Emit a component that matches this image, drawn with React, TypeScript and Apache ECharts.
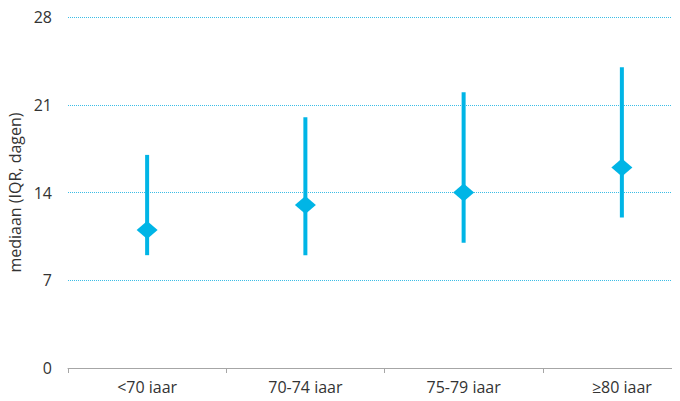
import React, { useEffect, useRef } from "react";
import * as echarts from "echarts";

const categories = ["<70 jaar", "70-74 jaar", "75-79 jaar", "≥80 jaar"];
const medians = [11, 13, 14, 16];
const q1 = [9, 9, 10, 12];
const q3 = [17, 20, 22, 24];
const yTicks = { min: 0, max: 28, interval: 7 };

const COLOR = "#00B5E6";
const FONT = "Open Sans";

export default function App() {
  const ref = useRef<HTMLDivElement>(null);
  useEffect(() => {
    if (!ref.current) return;
    const chart = echarts.init(ref.current, null, { renderer: "svg" });
    const errData = categories.map((_, i) => [i, q1[i], q3[i]]);
    chart.setOption({
      animation: false,
      grid: {
        left: 68,
        right: 0,
        top: 17,
        bottom: 33,
        containLabel: false,
        outerBoundsMode: "none",
      },
      xAxis: {
        type: "category",
        data: categories,
        axisLine: { show: true, lineStyle: { color: "#A6A6A6", width: 1 } },
        axisTick: { show: true, length: 5, lineStyle: { color: "#A6A6A6" } },
        axisLabel: { color: "#333", fontSize: 16, fontFamily: FONT, margin: 11 },
        splitLine: { show: false },
      },
      yAxis: {
        type: "value",
        min: yTicks.min,
        max: yTicks.max,
        interval: yTicks.interval,
        name: "mediaan (IQR, dagen)",
        nameLocation: "middle",
        nameGap: 42,
        nameRotate: 90,
        nameTextStyle: { color: "#333", fontSize: 16, fontFamily: FONT },
        axisLine: { show: false },
        axisTick: { show: false },
        axisLabel: { color: "#333", fontSize: 16, fontFamily: FONT, margin: 16 },
        splitLine: {
          show: true,
          lineStyle: { color: "#3CBDE6", type: [1, 1], width: 1 },
        },
      },
      series: [
        {
          type: "custom",
          data: errData,
          encode: { x: 0, y: [1, 2] },
          renderItem: (params: any, api: any) => {
            const x = api.value(0);
            const lo = api.coord([x, api.value(1)]);
            const hi = api.coord([x, api.value(2)]);
            return {
              type: "line",
              shape: { x1: lo[0], y1: lo[1], x2: hi[0], y2: hi[1] },
              style: { stroke: COLOR, lineWidth: 4 },
            };
          },
          z: 2,
        },
        {
          type: "scatter",
          data: medians,
          symbol: "diamond",
          symbolSize: [21, 18],
          itemStyle: { color: COLOR, opacity: 1 },
          z: 3,
        },
      ],
    });
    return () => chart.dispose();
  }, []);
  return (
    <div style={{ width: 680, height: 401, margin: -8, overflow: "hidden" }}>
      <div ref={ref} style={{ width: 701, height: 401 }} />
    </div>
  );
}
